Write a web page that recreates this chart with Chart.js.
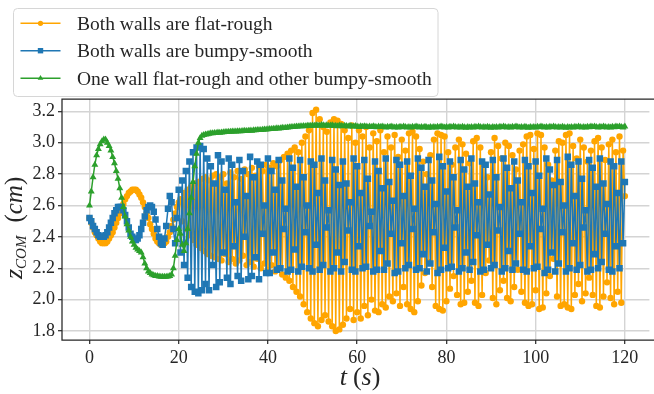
<!DOCTYPE html>
<html>
<head>
<meta charset="utf-8">
<script src="https://cdn.jsdelivr.net/npm/chart.js@4.4.1/dist/chart.umd.min.js"></script>
<style>
  html, body { margin: 0; padding: 0; background: #ffffff; }
  canvas { display: block; }
</style>
</head>
<body>
<canvas id="zChart" width="654" height="394"></canvas>
<script>
// sampling step of all three series (s)
const DT = 0.4;

const xTicks = [0, 20, 40, 60, 80, 100, 120];
const yTicks = [1.8, 2.0, 2.2, 2.4, 2.6, 2.8, 3.0, 3.2];

const seriesNames = [
    'Both walls are flat-rough',
    'Both walls are bumpy-smooth',
    'One wall flat-rough and other bumpy-smooth'
];

// z_COM (cm), one value every DT seconds from t = 0 to t = 120
const flatRough = [
    // t 0 - 20
    2.52, 2.49, 2.46, 2.43, 2.41, 2.39, 2.37, 2.36, 2.36, 2.36,
    2.37, 2.39, 2.41, 2.43, 2.46, 2.49, 2.52, 2.55, 2.58, 2.61,
    2.64, 2.66, 2.68, 2.69, 2.70, 2.70, 2.70, 2.69, 2.67, 2.65,
    2.62, 2.59, 2.55, 2.52, 2.48, 2.45, 2.42, 2.39, 2.37, 2.36,
    2.35, 2.35, 2.36, 2.37, 2.40, 2.43, 2.47, 2.51, 2.55, 2.59,
    2.62,
    // t 20.4 - 116
    2.64, 2.50, 2.68, 2.45, 2.70, 2.41, 2.72, 2.38, 2.74, 2.35, 2.75, 2.33,
    2.77, 2.31, 2.78, 2.29, 2.76, 2.28, 2.79, 2.27, 2.80, 2.26, 2.78, 2.25,
    2.80, 2.29, 2.74, 2.24, 2.81, 2.26, 2.78, 2.23, 2.82, 2.25, 2.77, 2.28,
    2.83, 2.22, 2.80, 2.24, 2.84, 2.21, 2.79, 2.26, 2.85, 2.20, 2.82, 2.23,
    2.86, 2.19, 2.84, 2.22, 2.87, 2.18, 2.85, 2.20, 2.89, 2.16, 2.91, 2.14,
    2.93, 2.12, 2.95, 2.08, 2.97, 2.05, 2.94, 2.02, 3.00, 1.97, 3.04, 1.92,
    3.08, 1.88, 3.19, 1.85, 3.21, 1.83, 3.15, 1.87, 3.10, 1.90, 3.07, 1.86,
    3.13, 1.83, 3.15, 1.80, 3.14, 1.81, 3.12, 1.84, 3.08, 1.88, 3.03, 1.94,
    3.11, 1.87, 3.00, 1.92, 3.08, 1.88, 3.04, 1.96, 3.10, 1.90, 2.97, 2.00,
    3.06, 1.93, 3.01, 1.92, 3.08, 1.97, 2.94, 1.95, 3.04, 2.02, 2.97, 1.99,
    3.05, 2.04, 2.91, 1.96, 3.02, 2.08, 2.95, 1.97, 3.06, 1.94, 3.07, 1.92,
    3.04, 1.99, 2.96, 2.09, 2.88, 2.17, 2.80, 2.24, 2.92, 2.08, 3.02, 1.96,
    3.06, 1.94, 3.05, 1.93, 3.04, 1.99, 2.94, 2.07, 2.86, 2.15, 2.97, 2.03,
    3.02, 1.97, 2.99, 1.98, 2.93, 2.05, 2.87, 2.12, 3.01, 1.98, 3.03, 1.96,
    2.97, 2.03, 2.86, 2.17, 2.78, 2.25, 2.94, 2.01, 3.03, 1.97, 2.98, 2.06,
    2.90, 2.12, 3.00, 2.01, 2.98, 1.99, 2.92, 2.08, 2.83, 2.19, 2.95, 2.05,
    2.99, 1.98, 3.04, 1.96, 3.05, 1.97, 2.96, 2.06, 3.06, 1.94, 3.05, 1.95,
    2.97, 2.04, 2.86, 2.15, 2.76, 2.26, 2.95, 2.02, 3.01, 1.96, 3.00, 1.97,
    3.05, 1.95, 3.06, 1.94, 2.98, 2.03, 2.90, 2.10, 3.02, 1.99, 2.97, 2.04,
    2.88, 2.14, 2.95, 2.03, 3.01, 1.96, 3.03, 1.95, 2.97, 2.02, 2.89, 2.11,
    // t 116.4 - 120
    2.99, 2.01, 3.02, 1.97, 2.94, 2.05, 3.04, 1.98, 2.95, 2.66
];

const bumpySmooth = [
    // t 0 - 20
    2.52, 2.50, 2.47, 2.45, 2.43, 2.41, 2.40, 2.40, 2.40, 2.41,
    2.43, 2.46, 2.49, 2.52, 2.55, 2.57, 2.59, 2.59, 2.59, 2.57,
    2.54, 2.50, 2.46, 2.42, 2.40, 2.38, 2.38, 2.39, 2.41, 2.45,
    2.49, 2.53, 2.57, 2.59, 2.60, 2.59, 2.56, 2.51, 2.45, 2.40,
    2.36, 2.35, 2.39, 2.47, 2.58, 2.66, 2.62, 2.45, 2.36, 2.52,
    2.70,
    // t 20.4 - 116
    2.30, 2.76, 2.22, 2.82, 2.14, 2.88, 2.08, 2.94, 2.05, 2.97, 2.04, 2.98,
    2.06, 2.96, 2.10, 2.90, 2.06, 2.85, 2.22, 2.74, 2.08, 2.92, 2.11, 2.88,
    2.30, 2.70, 2.14, 2.90, 2.10, 2.86, 2.34, 2.62, 2.15, 2.89, 2.12, 2.82,
    2.40, 2.66, 2.13, 2.91, 2.15, 2.78, 2.27, 2.88, 2.13, 2.86, 2.42, 2.60,
    2.17, 2.90, 2.17, 2.82, 2.30, 2.70, 2.19, 2.89, 2.20, 2.76, 2.45, 2.58,
    2.18, 2.90, 2.19, 2.84, 2.32, 2.72, 2.18, 2.89, 2.21, 2.78, 2.43, 2.60,
    2.20, 2.88, 2.18, 2.86, 2.35, 2.68, 2.19, 2.90, 2.22, 2.76, 2.46, 2.57,
    2.18, 2.89, 2.20, 2.83, 2.30, 2.73, 2.18, 2.88, 2.24, 2.74, 2.44, 2.62,
    2.19, 2.90, 2.18, 2.85, 2.34, 2.68, 2.20, 2.89, 2.21, 2.77, 2.47, 2.56,
    2.18, 2.88, 2.19, 2.82, 2.31, 2.71, 2.19, 2.90, 2.23, 2.75, 2.42, 2.63,
    2.17, 2.89, 2.18, 2.86, 2.36, 2.66, 2.20, 2.88, 2.22, 2.79, 2.45, 2.58,
    2.19, 2.90, 2.20, 2.84, 2.29, 2.72, 2.18, 2.89, 2.23, 2.76, 2.43, 2.61,
    2.17, 2.91, 2.19, 2.85, 2.33, 2.69, 2.20, 2.88, 2.21, 2.78, 2.46, 2.57,
    2.18, 2.89, 2.20, 2.83, 2.30, 2.72, 2.19, 2.90, 2.24, 2.74, 2.41, 2.62,
    2.18, 2.88, 2.19, 2.86, 2.35, 2.67, 2.20, 2.89, 2.22, 2.78, 2.44, 2.59,
    2.18, 2.90, 2.20, 2.84, 2.31, 2.71, 2.19, 2.88, 2.23, 2.76, 2.42, 2.62,
    2.19, 2.89, 2.18, 2.85, 2.34, 2.68, 2.20, 2.88, 2.21, 2.79, 2.45, 2.58,
    2.17, 2.90, 2.19, 2.83, 2.30, 2.73, 2.18, 2.89, 2.23, 2.75, 2.43, 2.60,
    2.18, 2.91, 2.20, 2.86, 2.36, 2.66, 2.19, 2.88, 2.22, 2.77, 2.46, 2.57,
    2.18, 2.89, 2.19, 2.84, 2.29, 2.72, 2.20, 2.90, 2.24, 2.74, 2.42, 2.61,
    // t 116.4 - 120
    2.19, 2.88, 2.18, 2.85, 2.34, 2.68, 2.20, 2.88, 2.36, 2.75
];

const mixedWalls = [
    // t 0 - 20
    2.60, 2.69, 2.78, 2.86, 2.92, 2.96, 2.99, 3.01, 3.02, 3.02,
    3.00, 2.98, 2.95, 2.91, 2.87, 2.82, 2.77, 2.71, 2.65, 2.59,
    2.53, 2.48, 2.44, 2.40, 2.37, 2.35, 2.33, 2.32, 2.31, 2.30,
    2.27, 2.23, 2.20, 2.18, 2.17, 2.16, 2.155, 2.15, 2.15, 2.148,
    2.146, 2.145, 2.145, 2.146, 2.148, 2.15, 2.16, 2.20, 2.28, 2.38,
    2.45,
    // t 20.4 - 25.2
    2.42, 2.35, 2.31, 2.36, 2.45, 2.55, 2.65, 2.75, 2.85, 2.93, 3.00, 3.03, 3.045,
    // t 25.6 - 50
    3.05, 3.052, 3.055, 3.057, 3.06, 3.06, 3.062, 3.063, 3.065, 3.064, 3.066, 3.067,
    3.068, 3.069, 3.07, 3.07, 3.071, 3.072, 3.071, 3.073, 3.074, 3.073, 3.075, 3.076,
    3.075, 3.077, 3.078, 3.077, 3.079, 3.08, 3.081, 3.082, 3.081, 3.083, 3.084, 3.085,
    3.086, 3.087, 3.088, 3.089, 3.09, 3.092, 3.091, 3.093, 3.095, 3.094, 3.096, 3.098,
    3.099, 3.1, 3.101, 3.102, 3.104, 3.103, 3.105, 3.106, 3.107, 3.106, 3.108, 3.109, 3.108, 3.11,
    // t 50.4 - 120
    3.109, 3.112, 3.11, 3.108, 3.113, 3.111, 3.109, 3.112, 3.108, 3.11, 3.111, 3.107,
    3.109, 3.106, 3.11, 3.108, 3.105, 3.109, 3.107, 3.104, 3.108, 3.106, 3.103, 3.107,
    3.104, 3.101, 3.105, 3.102, 3.106, 3.103, 3.1, 3.104, 3.101, 3.105, 3.102, 3.099,
    3.103, 3.1, 3.104, 3.101, 3.098, 3.102, 3.099, 3.103, 3.1, 3.097, 3.101, 3.098,
    3.102, 3.099, 3.103, 3.1, 3.097, 3.101, 3.098, 3.102, 3.099, 3.103, 3.1, 3.097,
    3.101, 3.098, 3.102, 3.099, 3.096, 3.1, 3.097, 3.101, 3.098, 3.102, 3.099, 3.103,
    3.1, 3.097, 3.101, 3.098, 3.102, 3.099, 3.103, 3.1, 3.097, 3.101, 3.098, 3.102,
    3.099, 3.096, 3.1, 3.097, 3.101, 3.098, 3.102, 3.099, 3.103, 3.1, 3.097, 3.101,
    3.098, 3.102, 3.099, 3.096, 3.1, 3.097, 3.101, 3.098, 3.102, 3.099, 3.103, 3.1,
    3.097, 3.101, 3.098, 3.102, 3.099, 3.103, 3.1, 3.097, 3.101, 3.098, 3.102, 3.099,
    3.096, 3.1, 3.097, 3.101, 3.098, 3.102, 3.099, 3.103, 3.1, 3.097, 3.101, 3.098,
    3.102, 3.099, 3.103, 3.1, 3.097, 3.101, 3.098, 3.102, 3.099, 3.096, 3.1, 3.097,
    3.101, 3.098, 3.102, 3.099, 3.103, 3.1, 3.097, 3.101, 3.098, 3.102, 3.099, 3.103,
    3.1, 3.104, 3.101, 3.098, 3.102, 3.099, 3.103, 3.1, 3.097, 3.101, 3.098, 3.102,
    3.099, 3.103, 3.1, 3.104, 3.101, 3.098, 3.103
];

const colors = ['#ffa500', '#1f77b4', '#2ca02c'];
const markers = ['circle', 'rect', 'triangle'];
const markerSize = [3.2, 4.6, 4.0];
const SERIF = '"Liberation Serif", "Times New Roman", serif';
const INK = '#262626';

function toPoints(values) {
    return values.map((v, i) => ({ x: i * DT, y: v }));
}

function makeDataset(k, values) {
    return {
        label: seriesNames[k],
        data: toPoints(values),
        borderColor: colors[k],
        backgroundColor: colors[k],
        borderWidth: 1.5,
        pointStyle: markers[k],
        pointRadius: markerSize[k],
        pointBackgroundColor: colors[k],
        pointBorderWidth: 0,
        tension: 0,
        order: 3 - k
    };
}

// draw text made of pieces with different fonts / baseline shifts
function drawRuns(ctx, runs, x, y) {
    runs.forEach(function(r) {
        ctx.font = r[1];
        ctx.fillText(r[0], x, y + (r[2] || 0));
        x += ctx.measureText(r[0]).width + (r[3] || 0);
    });
}
function runsWidth(ctx, runs) {
    var w = 0;
    runs.forEach(function(r) {
        ctx.font = r[1];
        w += ctx.measureText(r[0]).width + (r[3] || 0);
    });
    return w;
}

function drawMarker(ctx, k, x, y) {
    ctx.fillStyle = colors[k];
    ctx.beginPath();
    if (k === 0) {
        ctx.arc(x, y, 2.6, 0, Math.PI * 2);
    } else if (k === 1) {
        ctx.rect(x - 2.7, y - 2.7, 5.4, 5.4);
    } else {
        ctx.moveTo(x, y - 3.2);
        ctx.lineTo(x + 2.8, y + 1.6);
        ctx.lineTo(x - 2.8, y + 1.6);
        ctx.closePath();
    }
    ctx.fill();
}

const decor = {
    id: 'decor',
    afterDraw(chart) {
        const ctx = chart.ctx;
        const a = chart.chartArea;
        ctx.save();

        // axes frame (right side is cut off by the picture edge)
        ctx.strokeStyle = INK;
        ctx.lineWidth = 1.25;
        ctx.beginPath();
        ctx.moveTo(chart.width, a.top);
        ctx.lineTo(a.left, a.top);
        ctx.lineTo(a.left, a.bottom);
        ctx.lineTo(chart.width, a.bottom);
        ctx.stroke();

        // legend box
        const bx = 13.5, by = 8.5, bw = 424.5, bh = 88, rad = 4;
        ctx.beginPath();
        ctx.moveTo(bx + rad, by);
        ctx.arcTo(bx + bw, by, bx + bw, by + bh, rad);
        ctx.arcTo(bx + bw, by + bh, bx, by + bh, rad);
        ctx.arcTo(bx, by + bh, bx, by, rad);
        ctx.arcTo(bx, by, bx + bw, by, rad);
        ctx.closePath();
        ctx.fillStyle = 'rgba(255,255,255,0.85)';
        ctx.fill();
        ctx.strokeStyle = '#d6d6d6';
        ctx.lineWidth = 1;
        ctx.stroke();

        const rows = [23.3, 50.7, 78.2];
        seriesNames.forEach(function(name, k) {
            const ry = rows[k];
            ctx.strokeStyle = colors[k];
            ctx.lineWidth = 1.5;
            ctx.beginPath();
            ctx.moveTo(20.5, ry);
            ctx.lineTo(60.5, ry);
            ctx.stroke();
            drawMarker(ctx, k, 40.5, ry);
            ctx.fillStyle = INK;
            ctx.font = '19.5px ' + SERIF;
            ctx.textBaseline = 'alphabetic';
            ctx.textAlign = 'left';
            ctx.fillText(name, 77, ry + 6.6);
        });

        // x axis title: t (s)
        ctx.fillStyle = INK;
        ctx.textAlign = 'left';
        ctx.textBaseline = 'alphabetic';
        const xr = [
            ['t', 'italic 26px ' + SERIF, 0, 6],
            ['(', '26px ' + SERIF],
            ['s', 'italic 26px ' + SERIF],
            [')', '26px ' + SERIF]
        ];
        drawRuns(ctx, xr, 360 - runsWidth(ctx, xr) / 2, 385);

        // y axis title: z_COM (cm)
        ctx.translate(22, 279);
        ctx.rotate(-Math.PI / 2);
        const yr = [
            ['z', 'italic 26px ' + SERIF],
            ['COM', 'italic 15px ' + SERIF, 4, 13],
            ['(', '25px ' + SERIF],
            ['cm', 'italic 25px ' + SERIF],
            [')', '25px ' + SERIF]
        ];
        drawRuns(ctx, yr, 0, 0);
        ctx.restore();
    }
};

const tickFont = { family: SERIF, size: 18 };

new Chart(document.getElementById('zChart').getContext('2d'), {
    type: 'line',
    data: {
        datasets: [
            makeDataset(0, flatRough),
            makeDataset(1, bumpySmooth),
            makeDataset(2, mixedWalls)
        ]
    },
    options: {
        responsive: false,
        animation: false,
        events: [],
        layout: { padding: { top: 99, left: 0, right: 0, bottom: 0 } },
        plugins: {
            legend: { display: false },
            tooltip: { enabled: false }
        },
        scales: {
            x: {
                type: 'linear',
                min: -6.16,
                max: 125.5,
                afterBuildTicks: function(s) { s.ticks = xTicks.map(v => ({ value: v })); },
                afterFit: function(s) { s.height = 54; },
                border: { display: false },
                grid: {
                    color: '#d4d4d4',
                    lineWidth: 1.4,
                    drawTicks: true,
                    tickLength: 4,
                    tickColor: INK,
                    tickWidth: 1.2
                },
                ticks: {
                    font: tickFont,
                    color: INK,
                    padding: 3,
                    maxRotation: 0,
                    autoSkip: false,
                    callback: v => String(v)
                }
            },
            y: {
                type: 'linear',
                min: 1.7425,
                max: 3.279,
                afterBuildTicks: function(s) { s.ticks = yTicks.map(v => ({ value: v })); },
                afterFit: function(s) { s.width = 62; },
                border: { display: false },
                grid: {
                    color: '#d4d4d4',
                    lineWidth: 1.4,
                    drawTicks: true,
                    tickLength: 4,
                    tickColor: INK,
                    tickWidth: 1.2
                },
                ticks: {
                    font: tickFont,
                    color: INK,
                    padding: 3,
                    autoSkip: false,
                    callback: v => v.toFixed(1)
                }
            }
        }
    },
    plugins: [decor]
});
</script>
</body>
</html>
